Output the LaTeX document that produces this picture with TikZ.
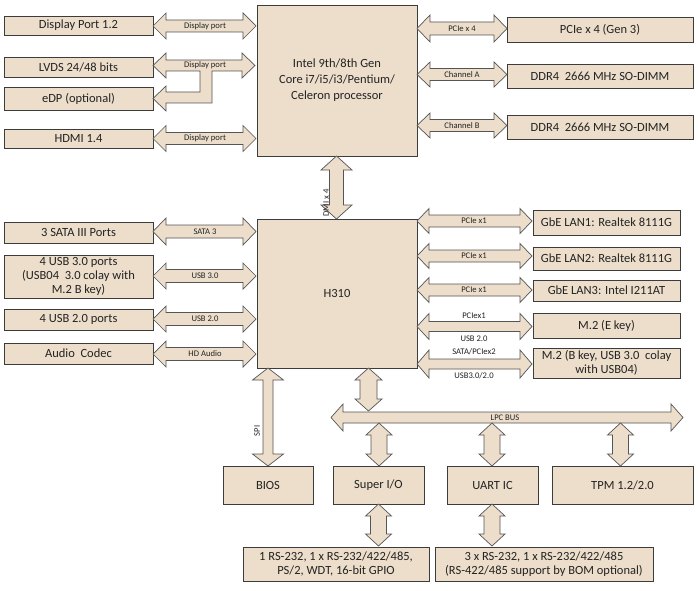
\documentclass[tikz,border=0pt]{standalone}
\usepackage{fontspec}
\setmainfont{Carlito}
\definecolor{beige}{RGB}{236,222,202}
\definecolor{edge}{RGB}{60,60,60}
\definecolor{aedge}{RGB}{85,85,85}
\definecolor{ink}{RGB}{35,35,35}
\tikzset{
  box/.style={draw=edge,fill=beige,line width=0.8pt,inner sep=0pt,outer sep=0pt,align=center,text=ink,font=\fontsize{12.5}{14}\selectfont},
  arr/.style={draw=aedge,fill=beige,line width=0.7pt,line join=miter},
  lbl/.style={text=ink,font=\fontsize{8.6}{10}\selectfont,inner sep=0pt},
}
\newcommand\bx[6]{\node[box,minimum width={(#4-#2)*1pt},minimum height={(#5-#3)*1pt}] (#1) at ({(#2+#4)/2},{(#3+#5)/2}) {#6};}
% horizontal double arrow: x1 x2 yc shafthalf headhalf headlen
\newcommand\harr[6]{\filldraw[arr] (#1,#3) -- ({#1+#6},{#3-#5}) -- ({#1+#6},{#3-#4}) -- ({#2-#6},{#3-#4}) -- ({#2-#6},{#3-#5}) -- (#2,#3) -- ({#2-#6},{#3+#5}) -- ({#2-#6},{#3+#4}) -- ({#1+#6},{#3+#4}) -- ({#1+#6},{#3+#5}) -- cycle;}
% vertical double arrow: y1 y2 xc shafthalf headhalf headlen
\newcommand\varr[6]{\filldraw[arr] (#3,#1) -- ({#3+#5},{#1+#6}) -- ({#3+#4},{#1+#6}) -- ({#3+#4},{#2-#6}) -- ({#3+#5},{#2-#6}) -- (#3,#2) -- ({#3-#5},{#2-#6}) -- ({#3-#4},{#2-#6}) -- ({#3-#4},{#1+#6}) -- ({#3-#5},{#1+#6}) -- cycle;}
\begin{document}
\begin{tikzpicture}[x=1pt,y=-1pt]
\useasboundingbox[fill=white] (0,0) rectangle (698,591);
% ---- boxes
\bx{dp}{4}{16}{153}{35}{Display Port 1.2}
\bx{lvds}{4}{57}{153}{77}{LVDS 24/48 bits}
\bx{edp}{4}{87}{153}{110}{eDP (optional)}
\bx{hdmi}{4}{129}{153}{148}{HDMI 1.4}
\bx{cpu}{257}{5}{417}{156}{Intel 9th/8th Gen\\[2pt]Core i7/i5/i3/Pentium/\\[2pt]Celeron processor}
\bx{pcie}{507}{17}{693}{42}{PCIe x 4 (Gen 3)}
\bx{ddra}{507}{64}{693}{88}{DDR4\ \ 2666 MHz SO-DIMM}
\bx{ddrb}{507}{115}{693}{139}{DDR4\ \ 2666 MHz SO-DIMM}
\bx{sata}{4}{222}{153}{243}{3 SATA III Ports}
\bx{usbiii}{4}{255}{153}{298}{4 USB 3.0 ports\\(USB04\ \ 3.0 colay with\\M.2 B key)}
\bx{usbii}{4}{309}{153}{330}{4 USB 2.0 ports}
\bx{audio}{4}{343}{153}{364}{Audio\ \ Codec}
\bx{pch}{257}{219}{417}{368}{H310}
\bx{lana}{533}{210}{680}{235}{GbE LAN1: Realtek 8111G}
\bx{lanb}{533}{247}{680}{270}{GbE LAN2: Realtek 8111G}
\bx{lanc}{533}{280}{680}{301}{GbE LAN3: Intel I211AT}
\bx{mtwoe}{533}{313}{680}{338}{M.2 (E key)}
\bx{mtwob}{533}{348}{680}{378}{M.2 (B key, USB 3.0\ \ colay\\with USB04)}
\bx{bios}{223}{466}{313}{504}{BIOS}
\bx{sio}{333}{466}{424}{504}{Super I/O}
\bx{uart}{447}{466}{538}{504}{UART IC}
\bx{tpm}{552}{466}{693}{504}{TPM 1.2/2.0}
\bx{sioout}{243}{547}{429}{581}{1 RS-232, 1 x RS-232/422/485,\\PS/2, WDT, 16-bit GPIO}
\bx{uartout}{435}{547}{653}{581}{3 x RS-232, 1 x RS-232/422/485\\(RS-422/485 support by BOM optional)}
% ---- left display arrows
\harr{153}{256}{26}{6}{13}{13}
\node[lbl] (l1) at (205,26) {Display port};
\filldraw[arr] (153,65.5) -- (166,53) -- (166,60) -- (242,60) -- (242,53) -- (255,65.5) -- (242,78) -- (242,71) -- (212,71) -- (212,103) -- (166,103) -- (166,111) -- (153,98.5) -- (166,86) -- (166,92) -- (200,92) -- (200,71) -- (166,71) -- (166,78) -- cycle;
\node[lbl] (l2) at (205,65.5) {Display port};
\harr{153}{256}{138.5}{6}{13}{13}
\node[lbl] (l3) at (205,138.5) {Display port};
% ---- right cpu arrows
\harr{417}{507}{28.5}{6.5}{13.5}{13}
\node[lbl] (l4) at (462,28.5) {PCIe x 4};
\harr{417}{507}{74.5}{6}{12.5}{13}
\node[lbl] (l5) at (462,74.5) {Channel A};
\harr{417}{507}{125.5}{6}{12.5}{13}
\node[lbl] (l6) at (462,125.5) {Channel B};
% ---- DMI
\varr{156}{219}{336.5}{7}{15.5}{14}
\node[lbl,rotate=90] (l7) at (326,203) {DMI x 4};
% ---- left pch arrows
\harr{153}{256}{231.5}{6.5}{13.5}{13}
\node[lbl] (l8) at (205,231.5) {SATA 3};
\harr{153}{256}{276}{6.5}{13}{13}
\node[lbl] (l9) at (205,276) {USB 3.0};
\harr{153}{256}{319}{6.5}{13}{13}
\node[lbl] (l10) at (205,319) {USB 2.0};
\harr{153}{256}{354}{6.5}{13}{13}
\node[lbl] (l11) at (205,354) {HD Audio};
% ---- right pch arrows
\harr{417}{532}{221}{6}{12.5}{12}
\node[lbl] (l12) at (474,221) {PCIe x1};
\harr{417}{532}{256}{6}{12.5}{12}
\node[lbl] (l13) at (474,256) {PCIe x1};
\harr{417}{532}{290}{6}{12.5}{12}
\node[lbl] (l14) at (474,290) {PCIe x1};
\harr{417}{532}{326.5}{5}{13}{12}
\node[lbl] (l15) at (474,315.5) {PCIex1};
\node[lbl] (l16) at (474,339) {USB 2.0};
\harr{417}{532}{364}{5}{14}{12}
\node[lbl] (l17) at (474,352) {SATA/PCIex2};
\node[lbl] (l18) at (474,376) {USB3.0/2.0};
% ---- SPI
\varr{368}{466}{268}{5}{15.5}{12}
\node[lbl,rotate=90] (l19) at (257,431) {SPI};
% ---- LPC
\harr{331}{683}{417.5}{5.5}{13.5}{12}
\node[lbl] (l20) at (505,417.5) {LPC BUS};
\varr{368}{411}{368.5}{8.5}{13.5}{12}
\varr{423}{466}{379}{8}{13}{12}
\varr{423}{466}{492}{8}{13}{12}
\varr{423}{466}{620.5}{8}{13}{12}
\varr{504}{546}{378.5}{8}{13}{12}
\varr{504}{546}{492}{8}{13}{12}
\end{tikzpicture}
\end{document}
